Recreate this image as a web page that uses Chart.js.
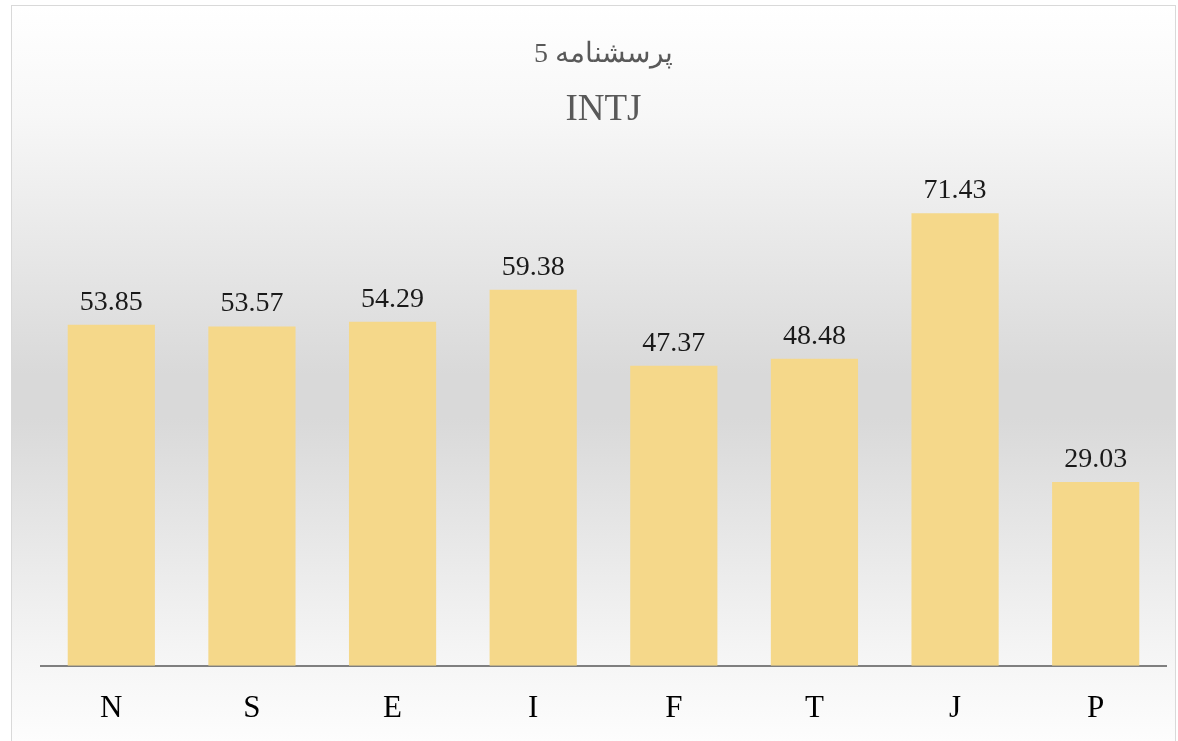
<!DOCTYPE html>
<html>
<head>
<meta charset="utf-8">
<script src="https://cdn.jsdelivr.net/npm/chart.js@4"></script>
<style>
  body { margin: 0; background: #ffffff; }
  #box {
    position: absolute; left: 11px; top: 5px; width: 1163px; height: 736px;
    border: 1px solid #d9d9d9; border-bottom: none;
    background: linear-gradient(to bottom, #ffffff 0%, #f7f7f7 15%, #d9d9d9 50%, #d9d9d9 56%, #f5f5f5 88%, #fdfdfd 100%);
  }
  #chart { display: block; }
</style>
</head>
<body>
<div id="box"><canvas id="chart" width="1163" height="735"></canvas></div>
<script>
const categories = ['N', 'S', 'E', 'I', 'F', 'T', 'J', 'P'];
const values = [53.85, 53.57, 54.29, 59.38, 47.37, 48.48, 71.43, 29.03];
const titleLine1 = 'پرسشنامه 5';
const titleLine2 = 'INTJ';

const serif = "'Liberation Serif', 'DejaVu Serif', serif";

// draw value labels above each bar
const valueLabels = {
  id: 'valueLabels',
  afterDatasetsDraw(chart) {
    const ctx = chart.ctx;
    const meta = chart.getDatasetMeta(0);
    ctx.save();
    ctx.font = '28px ' + serif;
    ctx.fillStyle = '#1a1a1a';
    ctx.textAlign = 'center';
    ctx.textBaseline = 'alphabetic';
    meta.data.forEach(function(bar, i) {
      ctx.fillText(values[i].toFixed(2), bar.x, bar.y - 15);
    });
    ctx.restore();
  }
};

const config = {
  type: 'bar',
  data: {
    labels: categories,
    datasets: [{
      data: values,
      backgroundColor: '#F5D88A',
      borderWidth: 0,
      categoryPercentage: 1.0,
      barPercentage: 0.62
    }]
  },
  options: {
    responsive: false,
    animation: false,
    layout: { padding: { left: 29, right: 9, top: 0, bottom: -10 } },
    plugins: {
      legend: { display: false },
      tooltip: { enabled: false },
      title: {
        display: true,
        text: titleLine1,
        color: '#595959',
        font: { family: serif, size: 28, weight: 'normal', lineHeight: 1.2 },
        padding: { top: 32, bottom: 16 }
      },
      subtitle: {
        display: true,
        text: titleLine2,
        color: '#595959',
        font: { family: serif, size: 37, weight: 'normal', lineHeight: 1.2 },
        padding: { top: 0, bottom: 27 }
      }
    },
    scales: {
      x: {
        grid: { display: false, drawTicks: false },
        border: { display: true, color: '#7f7f7f', width: 2 },
        ticks: {
          color: '#000000',
          padding: 24,
          font: { family: serif, size: 31, lineHeight: 1.2 }
        }
      },
      y: {
        display: false,
        min: 0,
        max: 80
      }
    }
  },
  plugins: [valueLabels]
};

const myChart = new Chart(document.getElementById('chart'), config);
</script>
</body>
</html>
